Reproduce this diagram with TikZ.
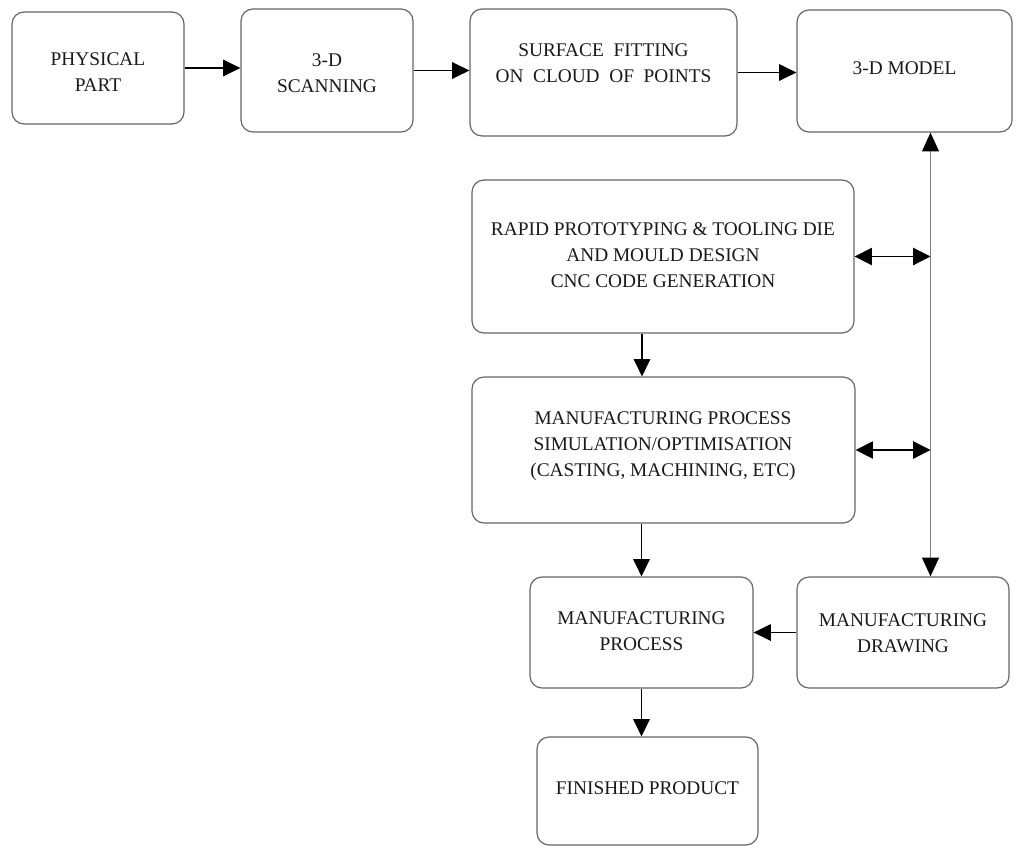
\documentclass[tikz,border=0pt]{standalone}
\usepackage{fontspec}
\setmainfont{Liberation Serif}
\usetikzlibrary{positioning, calc, arrows.meta}
\tikzstyle{box} = [draw=black!60, line width=0.9pt, rounded corners=9pt, inner sep=0pt]
\tikzstyle{txt} = [align=center, font=\fontsize{14.5}{19.5}\selectfont, text=black!90, inner sep=0pt]
\tikzstyle{arrow} = [line width=0.8pt, -{Triangle[length=13pt,width=12.5pt]}]
\tikzstyle{both} = [line width=0.8pt, {Triangle[length=13pt,width=13pt]}-{Triangle[length=13pt,width=13pt]}]
\tikzstyle{bus} = [draw=black!50, line width=1.4pt, {Triangle[length=14pt,width=12.5pt,color=black]}-{Triangle[length=14pt,width=12.5pt,color=black]}]

\begin{document}
\begin{tikzpicture}[x=0.75pt,y=-0.75pt]
    \useasboundingbox (0,0) rectangle (1019,850);
    % boxes
   	\node[box,minimum width=129pt,minimum height=84pt](part) at (98,68) {};
   	\node[box,minimum width=129pt,minimum height=92.25pt](scan) at (327,70.5) {};
   	\node[box,minimum width=200.25pt,minimum height=95.25pt](fit) at (603.5,72.5) {};
   	\node[box,minimum width=161.25pt,minimum height=91.5pt](model) at (904.5,71) {};
   	\node[box,minimum width=286.5pt,minimum height=114.75pt](rapid) at (663,256.5) {};
   	\node[box,minimum width=287.25pt,minimum height=109.5pt](sim) at (663.5,450) {};
   	\node[box,minimum width=167.25pt,minimum height=83.25pt](proc) at (641.5,632.5) {};
   	\node[box,minimum width=159pt,minimum height=83.25pt](mdraw) at (903,632.5) {};
   	\node[box,minimum width=165.75pt,minimum height=81pt](fin) at (647.5,791) {};
    % texts
   	\node[txt](part_t) at (98,72.5) {PHYSICAL\\PART};
   	\node[txt](scan_t) at (327,73) {3-D\\SCANNING};
   	\node[txt](fit_t) at (603.5,63) {SURFACE \ FITTING\\ON \ CLOUD \ OF \ POINTS};
   	\node[txt](model_t) at (904.5,68) {3-D MODEL};
   	\node[txt](rapid_t) at (663,255) {RAPID PROTOTYPING \& TOOLING DIE\\AND MOULD DESIGN\\CNC CODE GENERATION};
   	\node[txt](sim_t) at (663,446) {MANUFACTURING PROCESS\\SIMULATION/OPTIMISATION\\(CASTING, MACHINING, ETC)};
   	\node[txt](proc_t) at (641.5,631) {MANUFACTURING\\PROCESS};
   	\node[txt](mdraw_t) at (903,633) {MANUFACTURING\\DRAWING};
   	\node[txt](fin_t) at (647.5,788) {FINISHED PRODUCT};
    % vertical link
    \coordinate (bus_top) at ([xshift=19.5pt]model.south);
    \coordinate (bus_bot) at (bus_top |- mdraw.north);
    \draw[bus] (bus_top) -- (bus_bot);
    % arrows
    \draw[arrow] (part.east) -- (part.east -| scan.west);
    \draw[arrow] (scan.east) -- (scan.east -| fit.west);
    \draw[arrow] (fit.east) -- (fit.east -| model.west);
    \draw[both] (rapid.east) -- (rapid.east -| bus_top);
    \draw[both] (sim.east) -- (sim.east -| bus_top);
    \draw[arrow] ([xshift=-15.75pt]rapid.south) -- ([xshift=-15.75pt]rapid.south |- sim.north);
    \draw[arrow] (proc.north |- sim.south) -- (proc.north);
    \draw[arrow] (mdraw.west) -- (mdraw.west -| proc.east);
    \draw[arrow] (proc.south) -- (proc.south |- fin.north);
\end{tikzpicture}
\end{document}
